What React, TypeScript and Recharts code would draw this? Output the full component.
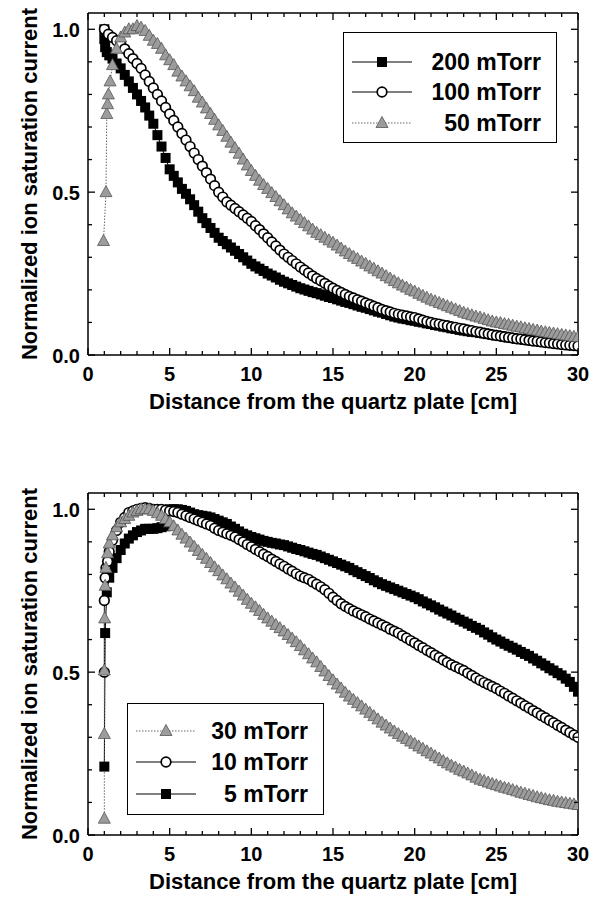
import { LineChart, Line, XAxis, YAxis } from "recharts";

const FONT = '"Liberation Sans", Arial, Helvetica, sans-serif';

// probe positions along the chamber [cm] (shared grid after the first few points)
const dist = [
  1.5, 1.75,
  2, 2.25, 2.5, 2.75, 3, 3.25, 3.5, 3.75, 4, 4.25, 4.5, 4.75,
  5, 5.25, 5.5, 5.75, 6, 6.25, 6.5, 6.75, 7, 7.25, 7.5, 7.75,
  8, 8.25, 8.5, 8.75, 9, 9.25, 9.5, 9.75, 10, 10.25, 10.5, 10.75,
  11, 11.25, 11.5, 11.75, 12, 12.25, 12.5, 12.75, 13, 13.25, 13.5, 13.75,
  14, 14.25, 14.5, 14.75, 15, 15.25, 15.5, 15.75, 16, 16.25, 16.5, 16.75,
  17, 17.25, 17.5, 17.75, 18, 18.25, 18.5, 18.75, 19, 19.25, 19.5, 19.75,
  20, 20.25, 20.5, 20.75, 21, 21.25, 21.5, 21.75, 22, 22.25, 22.5, 22.75,
  23, 23.25, 23.5, 23.75, 24, 24.25, 24.5, 24.75, 25, 25.25, 25.5, 25.75,
  26, 26.25, 26.5, 26.75, 27, 27.25, 27.5, 27.75, 28, 28.25, 28.5, 28.75,
  29, 29.25, 29.5, 29.75, 30,
];

// --- upper panel: 200 / 100 / 50 mTorr ---
const headX200 = [1.0, 1.0, 1.05, 1.15, 1.3];
const headY200 = [1.0, 0.97, 0.945, 0.93, 0.92];
const body200 = [
  0.91, 0.895,
  0.88, 0.86, 0.84, 0.82, 0.8, 0.78, 0.76, 0.735, 0.71, 0.675, 0.64, 0.605,
  0.57, 0.55, 0.53, 0.51, 0.495, 0.478, 0.46, 0.44, 0.42, 0.405, 0.39, 0.375,
  0.36, 0.35, 0.34, 0.33, 0.32, 0.31, 0.3, 0.29, 0.28, 0.272, 0.265, 0.258,
  0.25, 0.244, 0.238, 0.231, 0.225, 0.22, 0.215, 0.21, 0.205, 0.201, 0.197, 0.193,
  0.19, 0.186, 0.182, 0.178, 0.175, 0.171, 0.167, 0.163, 0.16, 0.156, 0.152, 0.148,
  0.145, 0.141, 0.137, 0.133, 0.13, 0.126, 0.122, 0.118, 0.115, 0.112, 0.11, 0.107,
  0.105, 0.102, 0.1, 0.097, 0.095, 0.092, 0.09, 0.087, 0.085, 0.082, 0.08, 0.077,
  0.075, 0.073, 0.071, 0.07, 0.068, 0.066, 0.064, 0.062, 0.06, 0.058, 0.056, 0.054,
  0.052, 0.05, 0.048, 0.047, 0.045, 0.044, 0.043, 0.041, 0.04, 0.039, 0.038, 0.036,
  0.035, 0.034, 0.033, 0.032, 0.03,
];

const headX100 = [1.0, 1.25];
const headY100 = [1.0, 0.985];
const body100 = [
  0.975, 0.965,
  0.955, 0.94, 0.925, 0.91, 0.895, 0.88, 0.86, 0.84, 0.82, 0.8, 0.78, 0.76,
  0.74, 0.72, 0.7, 0.68, 0.66, 0.64, 0.62, 0.6, 0.58, 0.56, 0.54, 0.52,
  0.5, 0.485, 0.47, 0.46, 0.45, 0.44, 0.43, 0.42, 0.41, 0.397, 0.385, 0.372,
  0.36, 0.347, 0.335, 0.322, 0.31, 0.3, 0.29, 0.28, 0.27, 0.261, 0.252, 0.243,
  0.235, 0.228, 0.22, 0.212, 0.205, 0.198, 0.192, 0.186, 0.18, 0.175, 0.17, 0.165,
  0.16, 0.155, 0.15, 0.145, 0.14, 0.136, 0.132, 0.128, 0.125, 0.122, 0.12, 0.117,
  0.115, 0.111, 0.107, 0.103, 0.1, 0.097, 0.095, 0.092, 0.09, 0.087, 0.085, 0.082,
  0.08, 0.077, 0.075, 0.072, 0.07, 0.067, 0.065, 0.062, 0.06, 0.058, 0.056, 0.054,
  0.052, 0.05, 0.049, 0.047, 0.045, 0.043, 0.042, 0.04, 0.038, 0.037, 0.035, 0.034,
  0.032, 0.031, 0.03, 0.029, 0.028,
];

const headX50 = [0.95, 1.1, 1.15, 1.2, 1.25, 1.35];
const headY50 = [0.35, 0.5, 0.74, 0.77, 0.8, 0.84];
const body50 = [
  0.89, 0.94,
  0.975, 0.99, 1.0, 1.0, 1.01, 1.005, 0.995, 0.98, 0.965, 0.955, 0.94, 0.92,
  0.905, 0.89, 0.87, 0.855, 0.84, 0.825, 0.81, 0.79, 0.775, 0.757, 0.74, 0.722,
  0.705, 0.688, 0.67, 0.652, 0.635, 0.618, 0.6, 0.582, 0.565, 0.55, 0.535, 0.522,
  0.51, 0.497, 0.485, 0.472, 0.46, 0.447, 0.435, 0.425, 0.415, 0.405, 0.395, 0.385,
  0.375, 0.368, 0.36, 0.352, 0.345, 0.336, 0.327, 0.318, 0.31, 0.302, 0.295, 0.287,
  0.28, 0.272, 0.265, 0.257, 0.25, 0.242, 0.235, 0.227, 0.22, 0.213, 0.207, 0.2,
  0.195, 0.188, 0.182, 0.176, 0.17, 0.165, 0.16, 0.155, 0.15, 0.145, 0.14, 0.135,
  0.13, 0.126, 0.122, 0.118, 0.115, 0.111, 0.107, 0.103, 0.1, 0.098, 0.095, 0.093,
  0.09, 0.087, 0.085, 0.082, 0.08, 0.077, 0.075, 0.072, 0.07, 0.068, 0.066, 0.064,
  0.062, 0.06, 0.058, 0.056, 0.055,
];

// --- lower panel: 30 / 10 / 5 mTorr ---
const headX30 = [1.0, 1.0, 1.0, 1.02, 1.05, 1.1, 1.2, 1.3];
const headY30 = [0.05, 0.31, 0.505, 0.665, 0.765, 0.82, 0.865, 0.895];
const body30 = [
  0.92, 0.945,
  0.96, 0.97, 0.98, 0.99, 0.995, 1.0, 1.0, 1.0, 0.995, 0.988, 0.98, 0.97,
  0.96, 0.948, 0.935, 0.922, 0.91, 0.898, 0.885, 0.872, 0.86, 0.848, 0.835, 0.822,
  0.81, 0.797, 0.785, 0.772, 0.76, 0.747, 0.735, 0.722, 0.71, 0.699, 0.688, 0.676,
  0.665, 0.655, 0.645, 0.635, 0.625, 0.614, 0.603, 0.592, 0.58, 0.567, 0.555, 0.542,
  0.53, 0.516, 0.502, 0.488, 0.475, 0.462, 0.45, 0.437, 0.425, 0.415, 0.405, 0.395,
  0.385, 0.375, 0.365, 0.355, 0.345, 0.336, 0.327, 0.318, 0.31, 0.302, 0.295, 0.287,
  0.28, 0.272, 0.265, 0.257, 0.25, 0.242, 0.235, 0.227, 0.22, 0.213, 0.207, 0.2,
  0.195, 0.189, 0.183, 0.176, 0.17, 0.166, 0.161, 0.157, 0.153, 0.149, 0.145, 0.142,
  0.138, 0.134, 0.13, 0.127, 0.123, 0.12, 0.116, 0.113, 0.11, 0.107, 0.105, 0.102,
  0.1, 0.098, 0.096, 0.094, 0.092,
];

const headX10 = [1.0, 1.0, 1.05, 1.1, 1.2, 1.3];
const headY10 = [0.5, 0.72, 0.79, 0.82, 0.84, 0.87];
const body10 = [
  0.905, 0.935,
  0.96, 0.975, 0.99, 0.995, 1.0, 1.003, 1.005, 1.003, 1.0, 1.0, 1.0, 0.997,
  0.995, 0.993, 0.99, 0.985, 0.98, 0.975, 0.97, 0.965, 0.96, 0.955, 0.95, 0.942,
  0.935, 0.93, 0.925, 0.92, 0.915, 0.907, 0.9, 0.892, 0.885, 0.877, 0.87, 0.862,
  0.855, 0.847, 0.84, 0.832, 0.825, 0.817, 0.81, 0.802, 0.795, 0.79, 0.785, 0.777,
  0.77, 0.762, 0.753, 0.742, 0.73, 0.72, 0.71, 0.702, 0.695, 0.688, 0.682, 0.676,
  0.67, 0.663, 0.657, 0.651, 0.645, 0.639, 0.632, 0.626, 0.62, 0.612, 0.605, 0.597,
  0.59, 0.582, 0.575, 0.567, 0.56, 0.552, 0.545, 0.537, 0.53, 0.523, 0.517, 0.511,
  0.505, 0.497, 0.49, 0.482, 0.475, 0.468, 0.462, 0.456, 0.45, 0.442, 0.435, 0.427,
  0.42, 0.412, 0.405, 0.397, 0.39, 0.382, 0.375, 0.367, 0.36, 0.352, 0.345, 0.337,
  0.33, 0.322, 0.315, 0.307, 0.3,
];

const headX5 = [1.0, 1.05, 1.15, 1.3];
const headY5 = [0.21, 0.62, 0.745, 0.79];
const body5 = [
  0.82, 0.85,
  0.875, 0.895, 0.91, 0.92, 0.93, 0.935, 0.94, 0.94, 0.94, 0.942, 0.945, 0.948,
  1.0, 1.0, 1.0, 0.998, 0.995, 0.99, 0.985, 0.982, 0.98, 0.978, 0.975, 0.97,
  0.965, 0.96, 0.955, 0.947, 0.94, 0.932, 0.925, 0.92, 0.915, 0.911, 0.907, 0.903,
  0.9, 0.897, 0.895, 0.892, 0.89, 0.886, 0.882, 0.878, 0.875, 0.871, 0.867, 0.863,
  0.86, 0.855, 0.85, 0.845, 0.84, 0.835, 0.83, 0.825, 0.82, 0.813, 0.807, 0.801,
  0.795, 0.789, 0.782, 0.776, 0.77, 0.765, 0.76, 0.755, 0.75, 0.745, 0.74, 0.735,
  0.73, 0.724, 0.717, 0.711, 0.705, 0.699, 0.692, 0.686, 0.68, 0.674, 0.667, 0.661,
  0.655, 0.649, 0.642, 0.636, 0.63, 0.622, 0.615, 0.607, 0.6, 0.594, 0.587, 0.581,
  0.575, 0.569, 0.562, 0.556, 0.55, 0.542, 0.535, 0.527, 0.52, 0.512, 0.505, 0.497,
  0.49, 0.48, 0.47, 0.455, 0.44,
];

const xTicks = [
  0, 1, 2, 3, 4, 5, 6, 7, 8, 9, 10, 11, 12, 13, 14, 15,
  16, 17, 18, 19, 20, 21, 22, 23, 24, 25, 26, 27, 28, 29, 30,
];
const yTicks = [0, 0.1, 0.2, 0.3, 0.4, 0.5, 0.6, 0.7, 0.8, 0.9, 1.0];

const toPoints = (hx: number[], hy: number[], body: number[]) => [
  ...hx.map((x, i) => ({ x, y: hy[i] })),
  ...dist.map((x, i) => ({ x, y: body[i] })),
];

type Shape = "square" | "circle" | "triangle";

const Marker = ({ shape, cx, cy }: { shape: Shape; cx: number; cy: number }) => {
  if (shape === "square")
    return <rect x={cx - 5} y={cy - 5} width={10} height={10} fill="#000" />;
  if (shape === "circle")
    return <circle cx={cx} cy={cy} r={4.8} fill="#fff" stroke="#000" strokeWidth={1.7} />;
  return (
    <polygon
      points={`${cx},${cy - 6.5} ${cx - 6},${cy + 4.5} ${cx + 6},${cy + 4.5}`}
      fill="#9c9c9c"
      stroke="#555"
      strokeWidth={0.8}
    />
  );
};

const lineStyle = (shape: Shape) =>
  shape === "triangle"
    ? { stroke: "#666", strokeDasharray: "1.5 1.5" }
    : { stroke: "#000", strokeDasharray: undefined };

interface Series {
  name: string;
  shape: Shape;
  points: { x: number; y: number }[];
}

const upper: Series[] = [
  { name: "200 mTorr", shape: "square", points: toPoints(headX200, headY200, body200) },
  { name: "100 mTorr", shape: "circle", points: toPoints(headX100, headY100, body100) },
  { name: "50 mTorr", shape: "triangle", points: toPoints(headX50, headY50, body50) },
];

const lower: Series[] = [
  { name: "30 mTorr", shape: "triangle", points: toPoints(headX30, headY30, body30) },
  { name: "10 mTorr", shape: "circle", points: toPoints(headX10, headY10, body10) },
  { name: "5 mTorr", shape: "square", points: toPoints(headX5, headY5, body5) },
];

const textProps = { fontFamily: FONT, fontWeight: 700, fill: "#000" };

// ticks point into the plot; labels only on the major ones
const BottomTick = (props: any) => {
  const { x, y, payload } = props;
  const major = payload.value % 5 === 0;
  return (
    <g>
      <line x1={x} y1={y} x2={x} y2={y - (major ? 7 : 4)} stroke="#000" strokeWidth={1.3} />
      {major && (
        <text x={x} y={y + 26} textAnchor="middle" fontSize={20} {...textProps}>
          {payload.value}
        </text>
      )}
    </g>
  );
};

const TopTick = (props: any) => {
  const { x, y, payload } = props;
  const major = payload.value % 5 === 0;
  return <line x1={x} y1={y} x2={x} y2={y + (major ? 7 : 4)} stroke="#000" strokeWidth={1.3} />;
};

const isHalf = (v: number) => Math.abs(v * 2 - Math.round(v * 2)) < 1e-6;

const LeftTick = (props: any) => {
  const { x, y, payload } = props;
  const major = isHalf(payload.value);
  return (
    <g>
      <line x1={x} y1={y} x2={x + (major ? 7 : 4)} y2={y} stroke="#000" strokeWidth={1.3} />
      {major && (
        <text x={x - 8} y={y + 7.5} textAnchor="end" fontSize={20} {...textProps}>
          {payload.value.toFixed(1)}
        </text>
      )}
    </g>
  );
};

const RightTick = (props: any) => {
  const { x, y, payload } = props;
  const major = isHalf(payload.value);
  return <line x1={x} y1={y} x2={x - (major ? 7 : 4)} y2={y} stroke="#000" strokeWidth={1.3} />;
};

const LegendBox = ({
  items,
  left,
  top,
  width,
  height,
  rows,
}: {
  items: Series[];
  left: number;
  top: number;
  width: number;
  height: number;
  rows: number[];
}) => (
  <div
    style={{
      position: "absolute",
      left,
      top,
      width,
      height,
      border: "1.5px solid #000",
      boxSizing: "border-box",
      background: "#fff",
    }}
  >
    {items.map((s, i) => {
      const ls = lineStyle(s.shape);
      return (
        <div key={s.name} style={{ position: "absolute", left: 0, top: rows[i] - 14, width: width - 3, height: 28 }}>
          <svg width={72} height={28} style={{ position: "absolute", left: 0, top: 0 }}>
            <line x1={8} y1={14} x2={68} y2={14} stroke={ls.stroke} strokeDasharray={ls.strokeDasharray} strokeWidth={1} />
            <Marker shape={s.shape} cx={38} cy={14} />
          </svg>
          <div
            style={{
              position: "absolute",
              right: 14,
              top: 0,
              lineHeight: "28px",
              fontSize: 23,
              fontFamily: FONT,
              fontWeight: 700,
              color: "#000",
              whiteSpace: "nowrap",
            }}
          >
            {s.name}
          </div>
        </div>
      );
    })}
  </div>
);

const axisLine = { stroke: "#000", strokeWidth: 1.5 };

function Panel({ series, legend }: { series: Series[]; legend: React.ReactNode }) {
  return (
    <div style={{ position: "relative", width: 603, height: 420 }}>
      <LineChart width={603} height={420} margin={{ top: 12, right: 24, bottom: 0, left: 0 }}>
        <XAxis
          dataKey="x"
          type="number"
          domain={[0, 30]}
          allowDataOverflow
          ticks={xTicks}
          interval={0}
          tickLine={false}
          tickSize={0}
          tickMargin={0}
          axisLine={axisLine}
          tick={BottomTick}
          height={65}
          label={{
            value: "Distance from the quartz plate [cm]",
            position: "insideBottom",
            offset: 11,
            style: { fontSize: 22, fontFamily: FONT, fontWeight: 700, fill: "#000" },
          }}
        />
        {/* mirrored frame axes: 1px thick so Recharts still draws them */}
        <XAxis
          xAxisId="top"
          dataKey="x"
          orientation="top"
          type="number"
          domain={[0, 30]}
          allowDataOverflow
          ticks={xTicks}
          interval={0}
          tickLine={false}
          tickSize={0}
          tickMargin={0}
          axisLine={axisLine}
          tick={TopTick}
          height={1}
        />
        <YAxis
          type="number"
          domain={[0, 1.05]}
          allowDataOverflow
          ticks={yTicks}
          interval={0}
          tickLine={false}
          tickSize={0}
          tickMargin={0}
          axisLine={axisLine}
          tick={LeftTick}
          width={88}
          label={{
            value: "Normalized ion saturation current",
            angle: -90,
            position: "insideLeft",
            offset: 29,
            style: { fontSize: 22, fontFamily: FONT, fontWeight: 700, fill: "#000", textAnchor: "middle" },
          }}
        />
        <YAxis
          yAxisId="right"
          orientation="right"
          type="number"
          domain={[0, 1.05]}
          allowDataOverflow
          ticks={yTicks}
          interval={0}
          tickLine={false}
          tickSize={0}
          tickMargin={0}
          axisLine={axisLine}
          tick={RightTick}
          width={1}
        />
        {series.map((s, i) => {
          const ls = lineStyle(s.shape);
          // the last series sits on the mirrored top/right axes (same scales)
          const mirrored = i === series.length - 1;
          return (
            <Line
              key={s.name}
              data={s.points}
              dataKey="y"
              name={s.name}
              type="linear"
              xAxisId={mirrored ? "top" : 0}
              yAxisId={mirrored ? "right" : 0}
              stroke={ls.stroke}
              strokeDasharray={ls.strokeDasharray}
              strokeWidth={1}
              isAnimationActive={false}
              activeDot={false}
              dot={(p: any) => <Marker key={`${s.name}-${p.index}`} shape={s.shape} cx={p.cx} cy={p.cy} />}
            />
          );
        })}
      </LineChart>
      {legend}
    </div>
  );
}

export default function App() {
  return (
    <div style={{ position: "absolute", left: 0, top: 0, width: 603, height: 899, background: "#fff" }}>
      <div style={{ position: "absolute", left: 0, top: 0 }}>
        <Panel
          series={upper}
          legend={<LegendBox items={upper} left={343} top={32} width={214} height={111} rows={[29, 59, 90]} />}
        />
      </div>
      <div style={{ position: "absolute", left: 0, top: 480 }}>
        <Panel
          series={[lower[2], lower[1], lower[0]]}
          legend={<LegendBox items={lower} left={127} top={223} width={197} height={112} rows={[27, 58, 90]} />}
        />
      </div>
    </div>
  );
}
